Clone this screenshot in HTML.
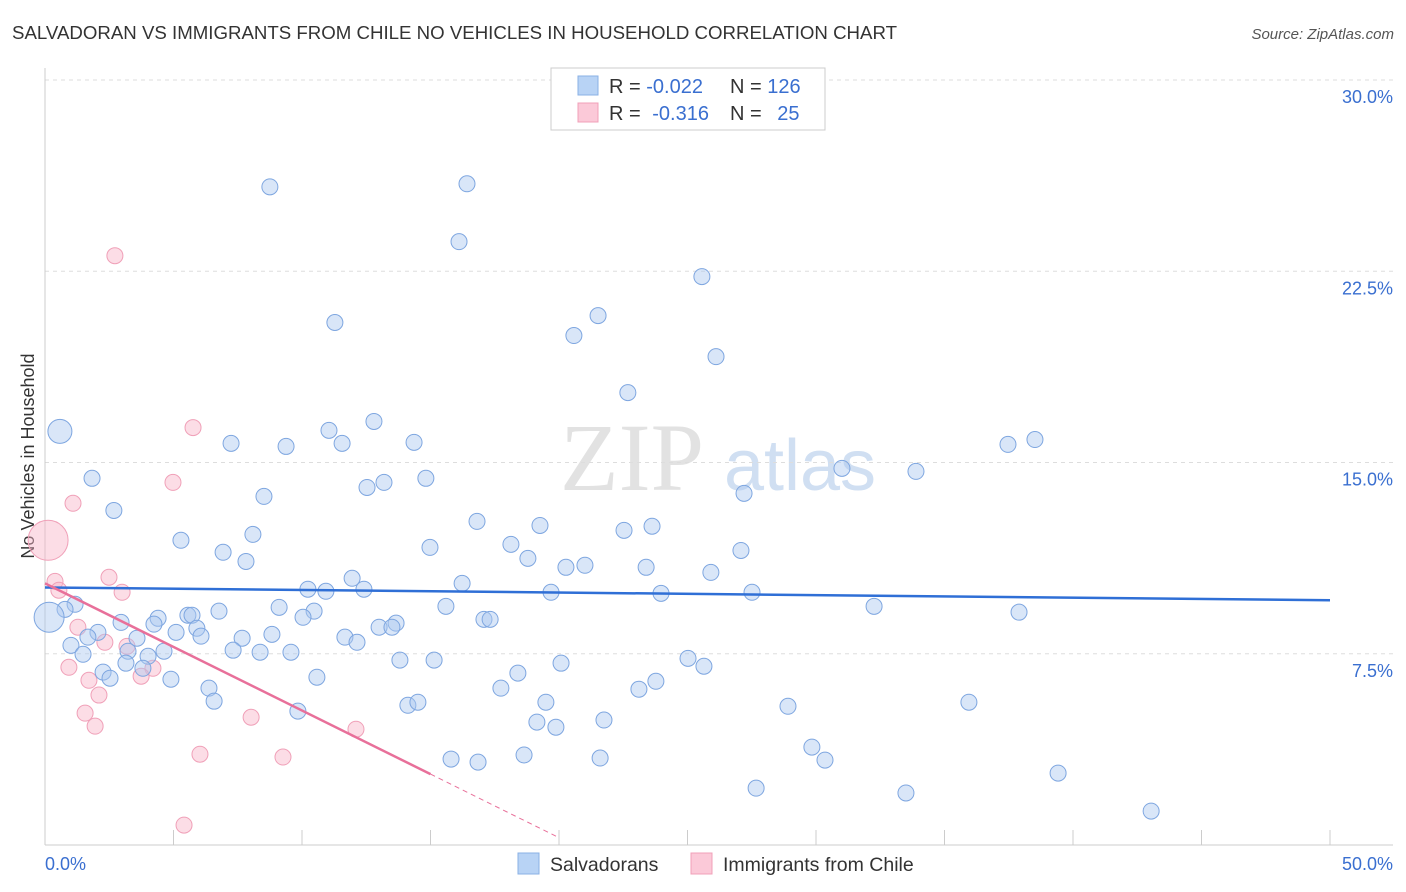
<!DOCTYPE html>
<html><head><meta charset="utf-8"><style>
body{margin:0;background:#fff;font-family:"Liberation Sans",sans-serif;}
svg{display:block}
</style></head><body>
<svg id="chart" width="1406" height="892">
<text x="12" y="39" font-size="18" fill="#333" textLength="885" lengthAdjust="spacingAndGlyphs">SALVADORAN VS IMMIGRANTS FROM CHILE NO VEHICLES IN HOUSEHOLD CORRELATION CHART</text>
<text x="1394" y="39" font-size="15" fill="#555" font-style="italic" text-anchor="end">Source: ZipAtlas.com</text>
<text x="34" y="456" font-size="18" fill="#333" text-anchor="middle" transform="rotate(-90 34 456)">No Vehicles in Household</text>
<g>
<text x="632" y="490" font-size="96" fill="#e2e2e2" font-family="Liberation Serif,serif" text-anchor="middle">ZIP</text>
<text x="800" y="490" font-size="72" fill="#d0dff2" text-anchor="middle">atlas</text>
</g>
<g id="grid"></g><g id="axes"></g><g id="marks"></g>
<g>
<rect x="551" y="68" width="274" height="62" fill="#fff" stroke="#ccc"/>
<rect x="578" y="76" width="20" height="19" fill="#b8d3f5" stroke="#8ab0e5"/>
<rect x="578" y="103" width="20" height="19" fill="#fbc9d8" stroke="#f0a0b8"/>
<text x="609" y="93" font-size="20" fill="#333">R = <tspan fill="#3a6fd0">-0.022</tspan></text>
<text x="730" y="93" font-size="20" fill="#333">N = <tspan fill="#3a6fd0">126</tspan></text>
<text x="609" y="120" font-size="20" fill="#333">R = <tspan fill="#3a6fd0" dx="6">-0.316</tspan></text>
<text x="730" y="120" font-size="20" fill="#333">N = <tspan fill="#3a6fd0" dx="10">25</tspan></text>
</g>
<g>
<rect x="518" y="853" width="21" height="21" fill="#b8d3f5" stroke="#8ab0e5"/>
<text x="550" y="871" font-size="19.5" fill="#333">Salvadorans</text>
<rect x="691" y="853" width="21" height="21" fill="#fbc9d8" stroke="#f0a0b8"/>
<text x="723" y="871" font-size="19.5" fill="#333">Immigrants from Chile</text>
</g>
</svg>
<script>
const yTicks=[7.5,15,22.5,30];
const yTickLabels=["7.5%","15.0%","22.5%","30.0%"];
const xTickLabels=["0.0%","50.0%"];
const blueX=[8.75,16.42,16.11,25.56,21.52,20.58,11.28,26.11,22.68,12.80,0.58,11.05,7.24,9.38,11.56,14.36,37.47,38.52,31.01,33.89,1.83,12.53,13.19,14.82,8.52,27.20,2.68,16.81,19.26,23.62,22.53,5.29,14.98,18.13,8.09,6.93,7.82,27.08,18.79,20.27,21.01,23.39,25.91,11.95,16.23,10.23,10.93,12.41,19.69,23.97,27.51,32.26,37.90,1.17,0.78,0.16,9.11,15.60,5.56,5.72,6.77,10.47,10.04,4.40,4.24,2.96,17.08,17.32,13.66,13.00,13.50,2.06,1.67,3.58,5.10,5.91,6.07,7.67,8.83,11.67,12.14,1.01,1.48,3.23,4.01,4.63,7.32,8.37,9.57,3.15,3.81,13.81,15.14,20.08,25.02,25.64,2.26,2.53,4.90,10.58,18.40,23.77,6.38,17.74,23.11,6.58,9.84,14.12,14.51,19.49,28.91,35.95,19.14,21.75,19.88,29.84,18.64,15.80,16.85,21.60,30.35,39.42,27.67,33.50,43.04];
const blueY=[25.81,25.93,23.66,22.29,20.76,19.98,20.49,19.15,17.74,16.61,16.22,16.26,15.75,15.63,15.75,15.79,15.71,15.90,14.77,14.65,14.38,14.02,14.22,14.38,13.67,13.79,13.12,12.69,12.53,12.50,12.34,11.95,11.67,11.79,12.18,11.48,11.12,11.55,11.24,10.89,10.97,10.89,10.69,10.46,10.26,10.03,9.95,10.03,9.91,9.87,9.91,9.36,9.13,9.44,9.24,8.93,9.32,9.36,9.01,9.01,9.17,9.17,8.93,8.89,8.66,8.73,8.85,8.85,8.70,8.54,8.54,8.34,8.15,8.11,8.34,8.50,8.19,8.11,8.26,8.15,7.95,7.83,7.48,7.60,7.40,7.60,7.64,7.56,7.56,7.13,6.93,7.25,7.25,7.13,7.32,7.01,6.78,6.54,6.50,6.58,6.74,6.42,6.15,6.15,6.11,5.64,5.25,5.48,5.60,5.60,5.44,5.60,4.82,4.90,4.62,3.84,3.53,3.37,3.25,3.41,3.33,2.82,2.23,2.04,1.33];
const pinkX=[2.72,5.76,4.98,1.09,2.49,0.39,0.54,3.00,0.12,1.28,2.33,3.19,0.93,4.20,3.74,1.71,2.10,1.56,1.95,8.02,12.10,6.03,9.26,5.41];
const pinkY=[23.11,16.37,14.22,13.40,10.50,10.34,9.99,9.91,11.95,8.54,7.95,7.79,6.97,6.93,6.62,6.46,5.88,5.17,4.66,5.01,4.54,3.56,3.45,0.78];
const blueTrend=[10.1,9.6];
const pinkTrend=[10.26,2.78];
const pinkTrendEndX=15, pinkDashEndX=20;
const X0=45,X1=1330,Y0=845,Y30=80;
const xs=v=>X0+(X1-X0)*v/50;
const ys=v=>Y0-(Y0-Y30)*v/30;
const NS="http://www.w3.org/2000/svg";
function mk(p,t,a){const e=document.createElementNS(NS,t);for(const k in a)e.setAttribute(k,a[k]);p.appendChild(e);return e;}
const grid=document.getElementById('grid'),axes=document.getElementById('axes'),marks=document.getElementById('marks');
yTicks.forEach((v,i)=>{
 const l=mk(grid,'line',{x1:X0,x2:1393,y1:ys(v),y2:ys(v),stroke:'#ddd','stroke-dasharray':'4,4'});
 
 
 const t=mk(axes,'text',{x:1393,y:ys(v)+23,'font-size':18,fill:'#3a6fd0','text-anchor':'end'});
 t.textContent=yTickLabels[i];
 
 
});
const ax=mk(axes,'line',{x1:X0,x2:1393,y1:Y0,y2:Y0,stroke:'#ccc'});


const ay=mk(axes,'line',{x1:X0,x2:X0,y1:68,y2:Y0,stroke:'#ccc'});


for(let i=0;i<=10;i++){const tk=mk(axes,'line',{x1:xs(i*5),x2:xs(i*5),y1:Y0-15,y2:Y0,stroke:'#ccc'});
 
 }
const tl=mk(axes,'text',{x:45,y:870,'font-size':18,fill:'#3a6fd0'});tl.textContent=xTickLabels[0];


const tr=mk(axes,'text',{x:1393,y:870,'font-size':18,fill:'#3a6fd0','text-anchor':'end'});tr.textContent=xTickLabels[1];


function big(x,y){return (x<1&&(y>16||(y>8.8&&y<9)))?(y>16?12:15):8;}
pinkX.forEach((x,i)=>{const r=(i===8)?20:8;
 const c=mk(marks,'circle',{cx:xs(x),cy:ys(pinkY[i]),r:r,fill:'rgba(248,180,200,0.45)',stroke:'#f0a0b8','stroke-width':1});
 
 });
blueX.forEach((x,i)=>{
 const c=mk(marks,'circle',{cx:xs(x),cy:ys(blueY[i]),r:big(x,blueY[i]),fill:'rgba(170,200,240,0.45)',stroke:'#7ea6e0','stroke-width':1});
 
 });
const bl=mk(marks,'line',{x1:xs(0),y1:ys(blueTrend[0]),x2:xs(50),y2:ys(blueTrend[1]),stroke:'#2f6fd6','stroke-width':2.5});


const slope=(pinkTrend[1]-pinkTrend[0])/pinkTrendEndX;
const pl=mk(marks,'line',{x1:xs(0),y1:ys(pinkTrend[0]),x2:xs(pinkTrendEndX),y2:ys(pinkTrend[1]),stroke:'#e8709a','stroke-width':2.5});


const pd=mk(marks,'line',{x1:xs(pinkTrendEndX),y1:ys(pinkTrend[1]),x2:xs(pinkDashEndX),y2:ys(pinkTrend[0]+slope*pinkDashEndX),stroke:'#e8709a','stroke-width':1,'stroke-dasharray':'5,4'});


</script>
</body></html>
